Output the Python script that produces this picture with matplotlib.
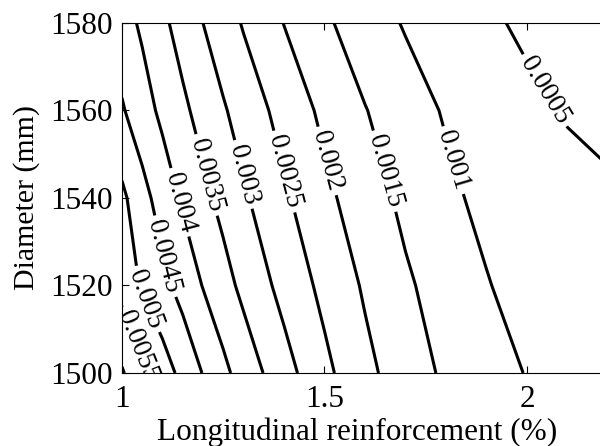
import matplotlib
matplotlib.use("Agg")
import matplotlib.pyplot as plt
import numpy as np

# longitudinal reinforcement (%) and diameter (mm) grid nodes
reinf = [1.0, 1.05, 1.1, 1.15, 1.2, 1.25, 1.3, 1.4, 1.5, 1.6, 1.7, 1.8, 1.9, 2.0, 2.1, 2.2]
diam = [1500, 1520, 1540, 1560, 1580]

# strain values (x 1e-3), one row per diameter
strain_1500 = [6.05, 5.62, 5.23, 4.86, 4.48, 4.12, 3.79, 3.19, 2.62, 2.13, 1.74, 1.42, 1.19, 0.98, 0.87, 0.77]
strain_1520 = [5.33, 4.94, 4.64, 4.32, 3.98, 3.68, 3.38, 2.84, 2.37, 1.94, 1.57, 1.29, 1.03, 0.80, 0.72, 0.65]
strain_1540 = [5.11, 4.67, 4.28, 3.93, 3.63, 3.35, 3.07, 2.58, 2.12, 1.73, 1.39, 1.11, 0.87, 0.78, 0.68, 0.60]
strain_1560 = [4.55, 4.21, 3.89, 3.60, 3.32, 3.05, 2.80, 2.32, 1.89, 1.52, 1.22, 0.954, 0.785, 0.616, 0.457, 0.33]
strain_1580 = [4.20, 3.92, 3.60, 3.30, 3.00, 2.73, 2.46, 1.99, 1.58, 1.24, 0.96, 0.77, 0.585, 0.41, 0.30, 0.20]

levels = [0.0005, 0.001, 0.0015, 0.002, 0.0025, 0.003, 0.0035,
          0.004, 0.0045, 0.005, 0.0055, 0.006]

# where each contour label sits (reinforcement, diameter)
label_spots = [(2.037, 1564.2), (1.802, 1548.2), (1.632, 1545.7), (1.496, 1548.2),
               (1.395, 1545.9), (1.296, 1545.3), (1.210, 1545.3), (1.138, 1538.9),
               (1.099, 1526.5), (1.044, 1516.2), (1.027, 1505.7)]

xticks = [1, 1.5, 2]
xtick_labels = ["1", "1.5", "2"]
yticks = [1500, 1520, 1540, 1560, 1580]

plt.rcParams["font.family"] = ["Liberation Serif", "DejaVu Serif"]

fig = plt.figure(figsize=(6, 4.46), dpi=100)
ax = fig.add_axes([0.2033, 0.1637, 0.81, 0.7848])

Z = np.array([strain_1500, strain_1520, strain_1540, strain_1560, strain_1580]) / 1000
cs = ax.contour(reinf, diam, Z, levels=levels, colors="k", linewidths=2.2)
ax.clabel(cs, fmt=lambda v: f"{v:g}", fontsize=19.5, manual=label_spots, inline=True)

ax.set_xlim(1, 2.2)
ax.set_ylim(1500, 1580)
ax.set_xticks(xticks)
ax.set_xticklabels(xtick_labels)
ax.set_yticks(yticks)
ax.tick_params(direction="in", top=True, right=True, length=5, width=0.8, labelsize=22.5)
ax.tick_params(axis="x", pad=9)
ax.tick_params(axis="y", pad=7)
for s in ax.spines.values():
    s.set_linewidth(0.8)

ax.set_xlabel("Longitudinal reinforcement (%)", fontsize=22.5)
ax.set_ylabel("Diameter (mm)", fontsize=21.5)
ax.xaxis.set_label_coords(0.4835, -0.128)
ax.yaxis.set_label_coords(-0.169, 0.5)

fig.savefig("out.png", dpi=100)
